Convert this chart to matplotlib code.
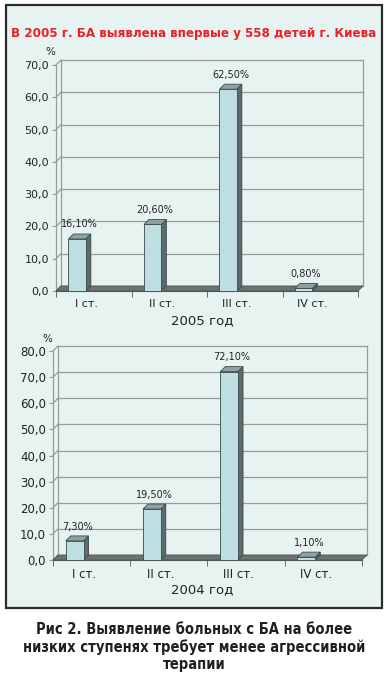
import matplotlib
matplotlib.use('Agg')
import matplotlib.pyplot as plt
from matplotlib.patches import Polygon, Rectangle

categories = ['I ст.', 'II ст.', 'III ст.', 'IV ст.']
values_2005 = [16.1, 20.6, 62.5, 0.8]
values_2004 = [7.3, 19.5, 72.1, 1.1]
labels_2005 = ['16,10%', '20,60%', '62,50%', '0,80%']
labels_2004 = ['7,30%', '19,50%', '72,10%', '1,10%']
ticks_2005 = [0, 10, 20, 30, 40, 50, 60, 70]
ticks_2004 = [0, 10, 20, 30, 40, 50, 60, 70, 80]

W, H = 388, 677
BG = '#E7F3F1'
FRONT = '#BEDFE2'
SIDE = '#5E6B6B'
TOP = '#8DA3A3'
EDGE = '#3B4747'
FLOOR = '#6B7373'
GRID = '#9A9A9A'

fig = plt.figure(figsize=(W / 100, H / 100), dpi=100)
fig.patch.set_facecolor('white')

# outer frame
fig.patches.append(Rectangle((6 / W, 1 - 608 / H), 376 / W, 603 / H,
                             transform=fig.transFigure, facecolor=BG,
                             edgecolor='#2B2B2B', linewidth=1.6, zorder=-5))


def chart(rect_px, values, labels, yticks, xlabel, xlabel_y, pct_y, fs):
    x0, x1, ytop, ybot = rect_px
    ax = fig.add_axes([x0 / W, 1 - ybot / H, (x1 - x0) / W, (ybot - ytop) / H])
    ax.set_facecolor('none')
    ax.set_zorder(2)
    xmin, xmax = -0.4, 3.6
    ymax = yticks[-1]
    ax.set_xlim(xmin, xmax)
    ax.set_ylim(0, ymax)
    # depth offset of 5 px converted into data units
    dx = 5 * (xmax - xmin) / (x1 - x0)
    dy = 5 * ymax / (ybot - ytop)

    # back wall grid
    for t in yticks:
        ax.plot([xmin + dx, xmax + dx], [t + dy, t + dy], color=GRID, lw=0.9,
                clip_on=False, zorder=1)
        ax.plot([xmin, xmin + dx], [t, t + dy], color=GRID, lw=0.9,
                clip_on=False, zorder=1)
    ax.plot([xmin + dx, xmin + dx], [dy, ymax + dy], color=GRID, lw=0.9,
            clip_on=False, zorder=1)
    ax.plot([xmax + dx, xmax + dx], [dy, ymax + dy], color=GRID, lw=0.9,
            clip_on=False, zorder=1)
    ax.plot([xmin, xmin], [0, ymax], color=GRID, lw=0.9, clip_on=False, zorder=1)

    # floor
    ax.add_patch(Polygon([(xmin, 0), (xmax, 0), (xmax + dx, dy), (xmin + dx, dy)],
                         closed=True, facecolor=FLOOR, edgecolor='#4A5252',
                         lw=0.6, clip_on=False, zorder=2))

    # bars
    w = 0.23
    centers = [i - 0.12 for i in range(len(values))]
    ax.bar(centers, values, width=w, color=FRONT, edgecolor=EDGE, linewidth=0.6,
           zorder=4)
    for c, v, lab in zip(centers, values, labels):
        l, r = c - w / 2, c + w / 2
        ax.add_patch(Polygon([(r, 0), (r, v), (r + dx, v + dy), (r + dx, dy)],
                             closed=True, facecolor=SIDE, edgecolor=EDGE,
                             lw=0.6, zorder=3))
        ax.add_patch(Polygon([(l, v), (r, v), (r + dx, v + dy), (l + dx, v + dy)],
                             closed=True, facecolor=TOP, edgecolor=EDGE,
                             lw=0.6, zorder=3))
        ax.text(c + dx / 2, v + dy + ymax * 0.02, lab, ha='center', va='bottom',
                fontsize=7, color='#222222', zorder=5)

    for s in ax.spines.values():
        s.set_visible(False)
    ax.set_yticks(yticks)
    ax.set_yticklabels([f'{t:.1f}'.replace('.', ',') for t in yticks],
                       fontsize=fs, color='#222222')
    ax.tick_params(axis='y', length=3, color=GRID, pad=2)
    ax.set_xticks([i - 0.4 for i in range(len(values) + 1)], minor=True)
    ax.set_xticks(range(len(values)))
    ax.set_xticklabels(categories, fontsize=fs, color='#222222')
    ax.tick_params(axis='x', which='major', length=0, pad=6)
    ax.tick_params(axis='x', which='minor', length=4, color='#555555')
    ax.plot([xmin, xmax], [0, 0], color='#555555', lw=0.8, clip_on=False, zorder=2)

    fig.text(x0 / W - 0.015, 1 - pct_y / H, '%', fontsize=7.5, color='#222222',
             ha='center', va='center')
    fig.text(0.52, 1 - xlabel_y / H, xlabel, fontsize=9.5, color='#222222',
             ha='center', va='center')
    return ax


chart((56, 358, 65, 291), values_2005, labels_2005, ticks_2005,
      '2005 год', 321, 52, 8)
chart((53, 362, 351, 560), values_2004, labels_2004, ticks_2004,
      '2004 год', 590, 339, 8.5)

fig.text(0.5, 1 - 33 / H, 'В 2005 г. БА выявлена впервые у 558 детей г. Киева',
         fontsize=9.5, fontweight='bold', color='#E8212B', ha='center',
         va='center', family='DejaVu Sans', fontstretch='condensed')

fig.text(0.5, 1 - 647 / H,
         'Рис 2. Выявление больных с БА на более\n'
         'низких ступенях требует менее агрессивной\nтерапии',
         fontsize=10.5, fontweight='bold', color='#231F20', ha='center',
         va='center', linespacing=1.2,
         family='DejaVu Sans', fontstretch='condensed')

fig.savefig('out.png', dpi=100)
